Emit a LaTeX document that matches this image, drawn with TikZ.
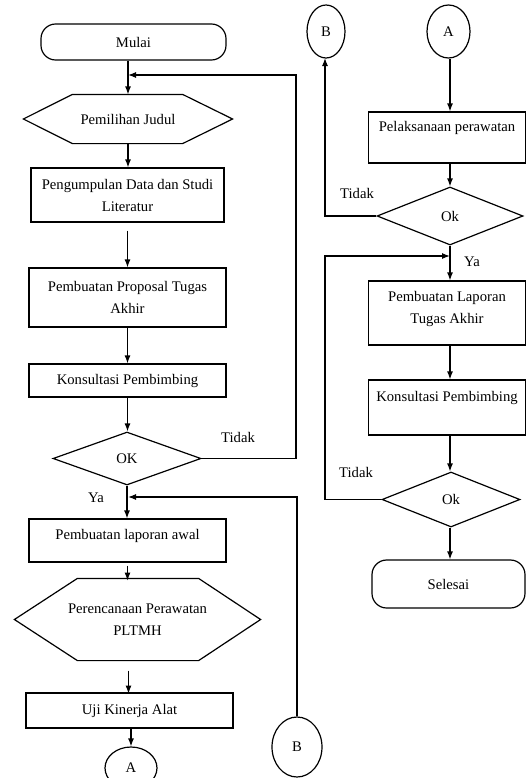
\documentclass[tikz,border=0pt]{standalone}
\usepackage{fontspec}
\setmainfont{Liberation Serif}
\usetikzlibrary{shapes.geometric,arrows.meta,calc}
\newcommand\pxu{0.75pt}
\newcommand\tm{\fontsize{11}{16.5}\selectfont}
\tikzset{
  sz/.style 2 args={minimum width=#1*\pxu, minimum height=#2*\pxu},
  box/.style={draw, rectangle, inner sep=0pt, align=center, font=\tm},
  term/.style={box, rounded corners=11pt},
  dec/.style={draw, diamond, inner sep=0pt, font=\tm},
  conn/.style={draw, ellipse, inner sep=0pt, font=\tm},
  hexa/.style={inner sep=0pt, align=center, font=\tm},
  arr/.style={draw, -{Latex[length=6pt,width=4.5pt]}},
  lbl/.style={font=\tm, inner sep=0pt}
}
\begin{document}
\begin{tikzpicture}[x=0.75pt,y=-0.75pt,line width=0.9pt]
\clip (0,0) rectangle (526,778);
\fill[white] (0,0) rectangle (526,778);
% left column
\node[term, sz={185}{36}] (mulai) at (133.5,42) {Mulai};
\node[hexa, sz={208}{48}] (pj) at (128,119) {Pemilihan Judul};
\draw (pj.west) -- ($(pj.north west)+(49,0)$) -- ($(pj.north east)+(-50,0)$) -- (pj.east)
  -- ($(pj.south east)+(-50,0)$) -- ($(pj.south west)+(49,0)$) -- cycle;
\node[box, sz={193}{54}] (pds) at (127.5,195) {Pengumpulan Data dan Studi\\Literatur};
\node[box, sz={197}{59}] (ppta) at (127.5,297.5) {Pembuatan Proposal Tugas\\Akhir};
\node[box, sz={197}{33}] (kp1) at (127.5,380.5) {Konsultasi Pembimbing};
\node[dec, sz={148}{53}] (ok1) at (127,458.5) {OK};
\node[box, sz={197}{43}] (pla) at (127.5,540.5) {Pembuatan laporan awal\\[-8pt]\mbox{}};
\node[hexa, sz={245}{81}] (ppp) at (137.5,619.5) {Perencanaan Perawatan\\PLTMH};
\draw (ppp.west) -- ($(ppp.north west)+(63,0)$) -- ($(ppp.north east)+(-62,0)$) -- (ppp.east)
  -- ($(ppp.south east)+(-62,0)$) -- ($(ppp.south west)+(63,0)$) -- cycle;
\node[box, sz={207}{35}] (uka) at (129.5,710.5) {Uji Kinerja Alat};
\node[conn, sz={52}{42}] (a1) at (131,768) {A};
\node[conn, sz={50}{60}] (b1) at (297,747) {B};
\node[lbl] (tidak1) at (238,437) {Tidak};
\node[lbl] (ya1) at (96,498) {Ya};
\coordinate (j1) at (128,75);
\coordinate (j2) at (128,497);
% left arrows
\draw[arr] (mulai.south -| pj.north) -- (pj.north);
\draw[arr] (pj.south) -- (pj.south |- pds.north);
\draw[arr] ($(pds.south)+(0,8)$) -- (pds.south |- ppta.north);
\draw[arr] (ppta.south) -- (kp1.north);
\draw[arr] (kp1.south) -- (kp1.south |- ok1.north);
\draw[arr] (ok1.south) -- (ok1.south |- pla.north);
\draw[arr] ($(pla.south)+(0,3)$) -- ($(pla.south)+(0,18)$);
\draw[arr] ($(ppp.south)+(-9,10)$) -- ($(ppp.south)+(-9,0)+(0,33)$);
\draw[arr] (uka.south -| a1.north) -- (a1.north);
\draw[arr] (ok1.east) -- (296,458.5) -- (296,75) -- (j1);
\draw[arr] (b1.north) -- (297,497) -- (j2);
% right column
\node[conn, sz={38}{53}] (b2) at (326,31.5) {B};
\node[conn, sz={43}{53}] (a2) at (448.5,31.5) {A};
\node[box, sz={157}{51}] (pp) at (447,137.5) {Pelaksanaan perawatan\\\mbox{}};
\node[dec, sz={146}{58}] (ok2) at (450,216) {Ok};
\node[box, sz={157}{64}] (plta) at (447,313) {Pembuatan Laporan\\Tugas Akhir\\[-8pt]\mbox{}};
\node[box, sz={157}{55}] (kp2) at (447,407.5) {Konsultasi Pembimbing\\\mbox{}};
\node[dec, sz={138}{55}] (ok3) at (451,499.5) {Ok};
\node[term, sz={153}{48}] (sel) at (448.5,584) {Selesai};
\node[lbl] (tidak2) at (357,193) {Tidak};
\node[lbl] (ya2) at (472,262) {Ya};
\node[lbl] (tidak3) at (356,472) {Tidak};
\coordinate (j3) at (450,256);
% right arrows
\draw[arr] (a2.south -| ok2.north) -- (ok2.north |- pp.north);
\draw[arr] (ok2.north |- pp.south) -- (ok2.north);
\draw[arr] (ok2.south) -- (ok2.south |- plta.north);
\draw[arr] (ok2.south |- plta.south) -- (ok2.south |- kp2.north);
\draw[arr] (ok2.south |- kp2.south) -- (ok2.south |- ok3.north);
\draw[arr] (ok3.south -| ok2.south) -- (ok2.south |- sel.north);
\draw[arr] (ok2.west) -- (325,216) -- (325,58);
\draw[arr] (ok3.west) -- (325,499.5) -- (325,256) -- (j3);
\end{tikzpicture}
\end{document}
